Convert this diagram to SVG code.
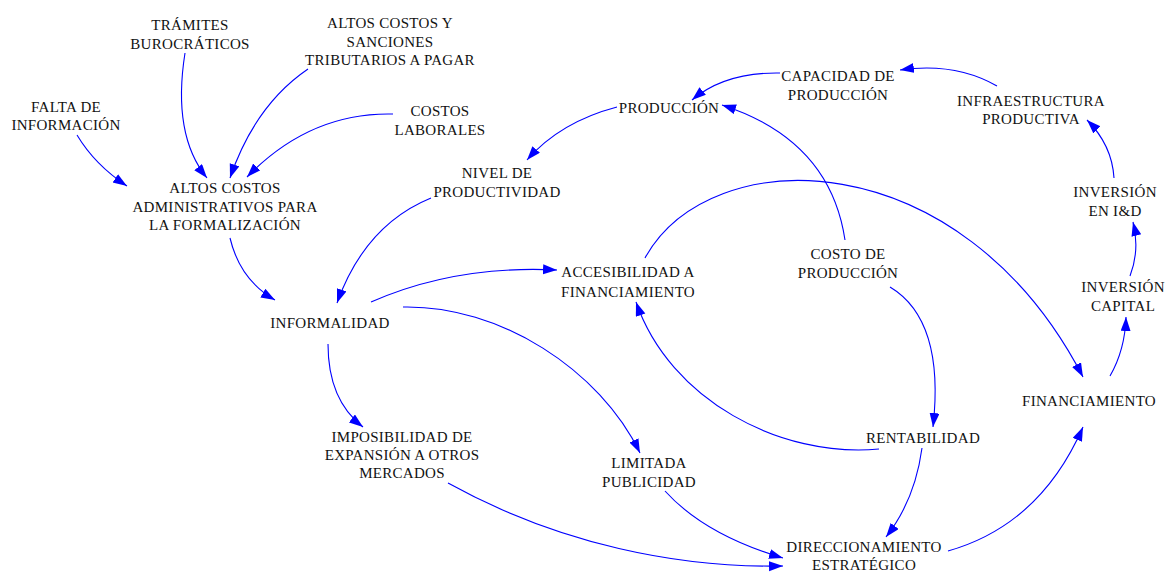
<svg xmlns="http://www.w3.org/2000/svg" width="1165" height="572" viewBox="0 0 1165 572">
<style>
text{font-family:"Liberation Serif","Times New Roman",serif;font-size:15px;letter-spacing:0.3px;fill:#111;text-anchor:middle}
.c path{fill:none;stroke:#0000ff;stroke-width:1.1;marker-end:url(#ah)}
</style>
<defs>
<marker id="ah" markerUnits="userSpaceOnUse" markerWidth="15" markerHeight="11" refX="14" refY="5" orient="auto">
<path d="M0,0 L14,5 L0,10 z" fill="#0000ff"/>
</marker>
</defs>
<rect width="1165" height="572" fill="#fff"/>
<g id="n-tramites"><text x="190" y="30">TRÁMITES</text><text x="190" y="49">BUROCRÁTICOS</text></g>
<g id="n-altoscostosy"><text x="390" y="28">ALTOS COSTOS Y</text><text x="390" y="47">SANCIONES</text><text x="390" y="65">TRIBUTARIOS A PAGAR</text></g>
<g id="n-falta"><text x="66" y="112">FALTA DE</text><text x="66" y="130">INFORMACIÓN</text></g>
<g id="n-costoslab"><text x="440" y="116">COSTOS</text><text x="440" y="135">LABORALES</text></g>
<g id="n-altosadm"><text x="225" y="193">ALTOS COSTOS</text><text x="225" y="212">ADMINISTRATIVOS PARA</text><text x="225" y="230">LA FORMALIZACIÓN</text></g>
<g id="n-nivel"><text x="497" y="178">NIVEL DE</text><text x="497" y="197">PRODUCTIVIDAD</text></g>
<g id="n-produccion"><text x="669" y="113">PRODUCCIÓN</text></g>
<g id="n-capacidad"><text x="838" y="81">CAPACIDAD DE</text><text x="838" y="100">PRODUCCIÓN</text></g>
<g id="n-infra"><text x="1031" y="106">INFRAESTRUCTURA</text><text x="1031" y="124">PRODUCTIVA</text></g>
<g id="n-invid"><text x="1115" y="197">INVERSIÓN</text><text x="1115" y="216">EN I&amp;D</text></g>
<g id="n-invcap"><text x="1123" y="292">INVERSIÓN</text><text x="1123" y="311">CAPITAL</text></g>
<g id="n-financ"><text x="1089" y="406">FINANCIAMIENTO</text></g>
<g id="n-acces"><text x="628" y="277">ACCESIBILIDAD A</text><text x="628" y="297">FINANCIAMIENTO</text></g>
<g id="n-costoprod"><text x="848" y="259">COSTO DE</text><text x="848" y="278">PRODUCCIÓN</text></g>
<g id="n-informalidad"><text x="330" y="328">INFORMALIDAD</text></g>
<g id="n-imposib"><text x="402" y="442">IMPOSIBILIDAD DE</text><text x="402" y="460">EXPANSIÓN A OTROS</text><text x="402" y="478">MERCADOS</text></g>
<g id="n-limitada"><text x="649" y="468">LIMITADA</text><text x="649" y="487">PUBLICIDAD</text></g>
<g id="n-rentab"><text x="923" y="443">RENTABILIDAD</text></g>
<g id="n-direcc"><text x="864" y="552">DIRECCIONAMIENTO</text><text x="864" y="570">ESTRATÉGICO</text></g>
<g id="connectors" class="c">
<path d="M77,135 Q95,165 127,186"/>
<path d="M185,53 Q172,135 207,178"/>
<path d="M308,69 Q255,105 230,178"/>
<path d="M393,114 Q310,112 247,177"/>
<path d="M230,238 Q240,280 275,300"/>
<path d="M431,198 Q365,225 337,303"/>
<path d="M371,302 Q455,265 557,270"/>
<path d="M403,307 C500,305 600,370 640,453"/>
<path d="M328,344 Q328,400 363,427"/>
<path d="M448,483 C560,545 680,568 783,566"/>
<path d="M665,491 Q705,535 783,558"/>
<path d="M845,240 Q830,140 722,105"/>
<path d="M780,73 Q725,72 692,100"/>
<path d="M617,107 Q560,122 527,160"/>
<path d="M997,86 Q955,62 900,70"/>
<path d="M1114,178 Q1112,145 1087,120"/>
<path d="M1130,276 Q1140,250 1133,222"/>
<path d="M1110,376 Q1125,350 1126,317"/>
<path d="M645,258 C710,140 960,140 1083,377"/>
<path d="M890,287 Q945,320 933,427"/>
<path d="M879,449 C780,458 670,400 636,302"/>
<path d="M922,448 Q915,500 886,537"/>
<path d="M948,551 Q1040,525 1083,427"/>
</g>
</svg>
